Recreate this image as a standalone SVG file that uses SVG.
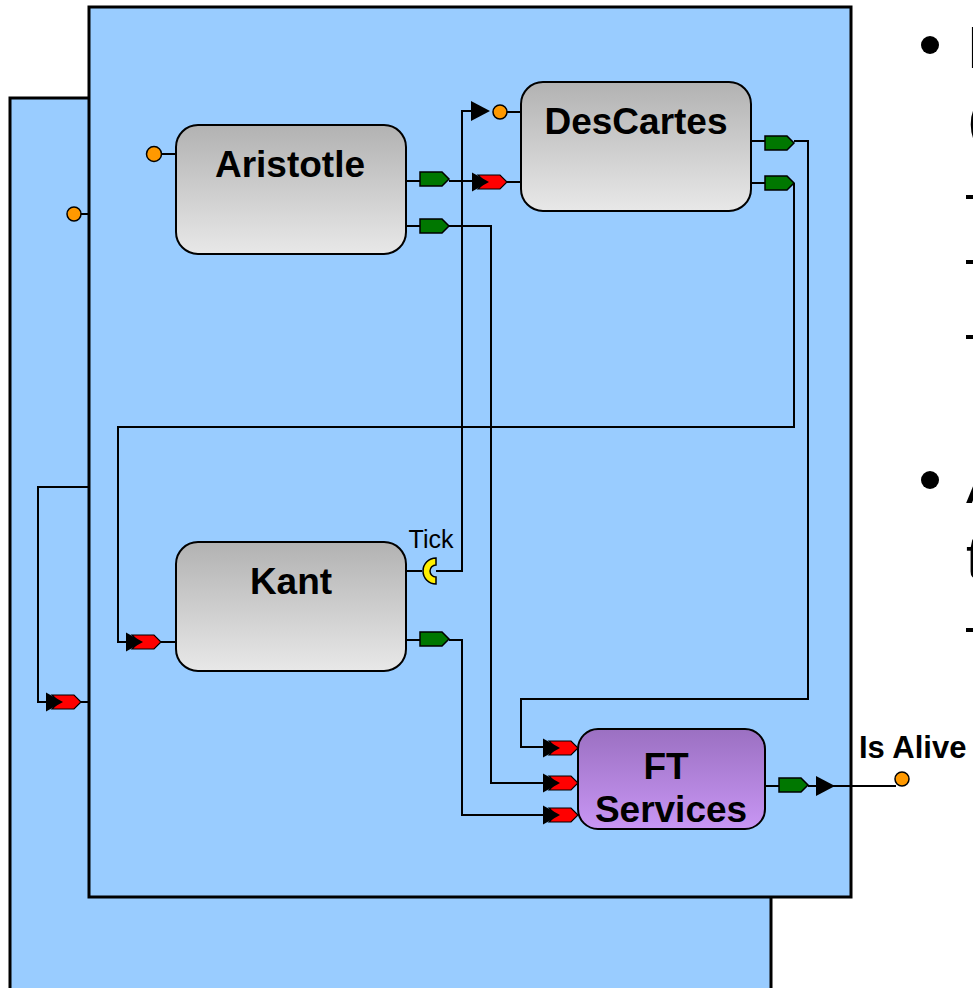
<svg xmlns="http://www.w3.org/2000/svg" width="973" height="988" viewBox="0 0 973 988">
<defs>
<style>
.panel{fill:#99CCFF;stroke:#000;stroke-width:3}
.node{stroke:#000;stroke-width:2}
.lbl{font-family:"Liberation Sans",Arial,sans-serif;font-weight:bold;font-size:37px;text-anchor:middle;fill:#000}
.wire{fill:none;stroke:#000;stroke-width:2}
.dot{fill:#FF9900;stroke:#000;stroke-width:1.5}
.bul{font-family:"Liberation Sans",Arial,sans-serif;font-size:60px;fill:#000}
</style>
<linearGradient id="gray" x1="0" y1="0" x2="0" y2="1">
<stop offset="0" stop-color="#b2b2b2"/>
<stop offset="1" stop-color="#e8e8e8"/>
</linearGradient>
<linearGradient id="purple" x1="0" y1="0" x2="0" y2="1">
<stop offset="0" stop-color="#9b70c2"/>
<stop offset="1" stop-color="#c896f4"/>
</linearGradient>
<g id="outport"><path d="M0,-7 L22,-7 L29,0 L22,7 L0,7 Z" fill="#007700" stroke="#000" stroke-width="1.5"/></g>
<g id="inport"><path d="M0,-7 L22,-7 L29,0 L22,7 L0,7 L7,0 Z" fill="#FF0000" stroke="#000" stroke-width="1.2"/><path d="M-6,-9.5 L11,0 L-6,9.5 Z" fill="#000"/></g>
<g id="arrow"><path d="M0,-10 L19,0 L0,10 Z" fill="#000"/></g>
</defs>
<rect x="0" y="0" width="973" height="988" fill="#fff"/>
<rect id="back-panel" class="panel" x="10" y="98" width="761" height="910"/>
<rect id="front-panel" class="panel" x="89" y="7" width="762" height="890"/>

<g id="connectors">
<path class="wire" d="M81,214 H89"/>
<path class="wire" d="M161,154 H176"/>
<path class="wire" d="M406,181 H420 M449,181 H478"/>
<path class="wire" d="M406,226 H420 M449,226 H491 V783 H549"/>
<path class="wire" d="M507,112 H520 M506,182 H520"/>
<path class="wire" d="M436,571 H462 V111 H472"/>
<path class="wire" d="M751,141 H765 M794,141 H808 V699 H521 V747 H549"/>
<path class="wire" d="M751,183 H765 M794,183 V427 H118 V642 H132"/>
<path class="wire" d="M161,642 H176"/>
<path class="wire" d="M406,571 H422"/>
<path class="wire" d="M406,640 H420 M449,640 H462 V815 H549"/>
<path class="wire" d="M89,487 H38 V702 H52 M81,702 H89"/>
<path class="wire" d="M765,786 H779 M808,786 H896"/>
</g>

<g id="n-left-port"><circle class="dot" cx="74" cy="214" r="7"/></g>

<g id="n-aristotle">
<rect class="node" x="176" y="125" width="230" height="129" rx="22" fill="url(#gray)"/>
<text class="lbl" x="290" y="177">Aristotle</text>
<circle class="dot" cx="154" cy="154" r="7.5"/>
<use href="#outport" x="420" y="179"/>
<use href="#outport" x="420" y="226"/>
</g>

<g id="n-descartes">
<rect class="node" x="521" y="82" width="230" height="129" rx="22" fill="url(#gray)"/>
<text class="lbl" x="636" y="134">DesCartes</text>
<use href="#arrow" x="471" y="111"/>
<circle class="dot" cx="500" cy="112" r="7"/>
<use href="#inport" x="478" y="182"/>
<use href="#outport" x="765" y="143"/>
<use href="#outport" x="765" y="183"/>
</g>

<g id="n-kant">
<rect class="node" x="176" y="542" width="230" height="129" rx="22" fill="url(#gray)"/>
<text class="lbl" x="291" y="594">Kant</text>
<path d="M436,558 A13,13 0 0 0 436,584 L436,577 A6,6 0 0 1 436,565 Z" fill="#FFEE00" stroke="#000" stroke-width="1.5"/>
<text x="431" y="548" font-family="'Liberation Sans',Arial,sans-serif" font-size="25" text-anchor="middle">Tick</text>
<use href="#inport" x="132" y="642"/>
<use href="#outport" x="420" y="639"/>
</g>

<g id="n-ft">
<rect class="node" x="578" y="729" width="187" height="100" rx="20" fill="url(#purple)"/>
<text class="lbl" x="666" y="779">FT</text>
<text class="lbl" x="671" y="822">Services</text>
<use href="#inport" x="549" y="748"/>
<use href="#inport" x="549" y="783"/>
<use href="#inport" x="549" y="815"/>
<use href="#outport" x="779" y="785"/>
<use href="#arrow" x="816" y="786"/>
</g>

<g id="n-outer-port"><use href="#inport" x="52" y="702"/></g>

<g id="n-isalive">
<circle class="dot" cx="902" cy="779" r="7"/>
<text x="859" y="758" font-family="'Liberation Sans',Arial,sans-serif" font-weight="bold" font-size="31">Is Alive</text>
</g>

<g id="bullets">
<circle cx="930" cy="45" r="9" fill="#000"/>
<text class="bul" x="967" y="68">E</text>
<text class="bul" x="967" y="140">(</text>
<text class="bul" x="966" y="212" font-size="50">–</text>
<text class="bul" x="966" y="277" font-size="50">–</text>
<text class="bul" x="966" y="352" font-size="50">–</text>
<circle cx="930" cy="480" r="9" fill="#000"/>
<text class="bul" x="966" y="503">A</text>
<text class="bul" x="966" y="578">t</text>
<text class="bul" x="966" y="645" font-size="50">–</text>
</g>
</svg>
